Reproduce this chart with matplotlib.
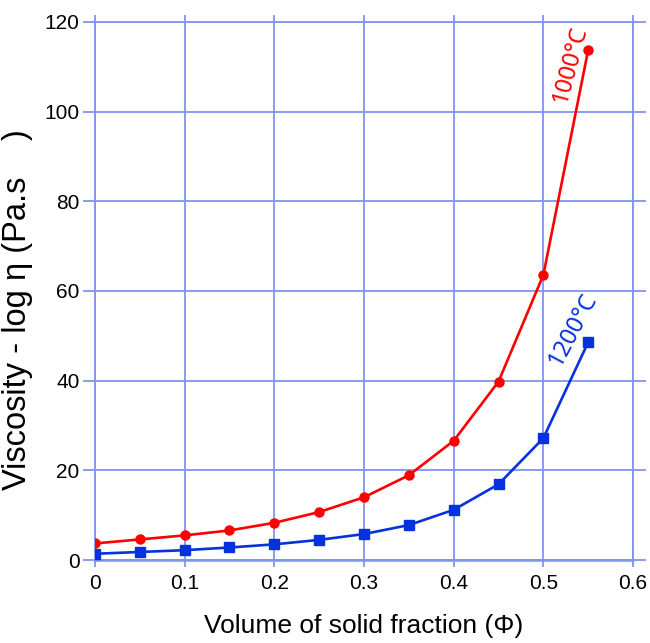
import matplotlib
matplotlib.use('Agg')
import matplotlib.pyplot as plt

phi = [0, 0.05, 0.1, 0.15, 0.2, 0.25, 0.3, 0.35, 0.4, 0.45, 0.5, 0.55]
visc_1000 = [3.7, 4.6, 5.5, 6.6, 8.3, 10.7, 14.0, 18.9, 26.6, 39.8, 63.6, 113.8]
visc_1200 = [1.4, 1.8, 2.2, 2.8, 3.5, 4.5, 5.8, 7.8, 11.2, 16.9, 27.2, 48.6]

xticks = [0, 0.1, 0.2, 0.3, 0.4, 0.5, 0.6]
xticklabels = ['0', '0.1', '0.2', '0.3', '0.4', '0.5', '0.6']
yticks = [0, 20, 40, 60, 80, 100, 120]

grid_col = '#8094f0'
red = '#ff0000'
blue = '#0532dc'

plt.rcParams['font.family'] = ['Liberation Sans', 'DejaVu Sans']

fig = plt.figure(figsize=(6.5, 6.43), dpi=100)
ax = fig.add_axes([0.146, 0.129, 0.828, 0.837])

ax.plot(phi, visc_1000, color=red, lw=1.9, marker='o', ms=6.5, zorder=3)
ax.plot(phi, visc_1200, color=blue, lw=1.9, marker='s', ms=6.5, zorder=3)

ax.set_xlim(0, 0.6)
ax.set_ylim(0, 120)
ax.set_xticks(xticks)
ax.set_xticklabels(xticklabels)
ax.set_yticks(yticks)
ax.grid(True, color=grid_col, lw=1.3)
for s in ax.spines.values():
    s.set_color(grid_col)
    s.set_linewidth(1.3)
ax.spines['bottom'].set_linewidth(1.8)
ax.tick_params(direction='out', width=1.3, color=grid_col,
               top=True, right=True, labelsize=15)
ax.tick_params(axis='y', length=9, pad=2)
ax.tick_params(axis='x', length=5, pad=5)

ax.set_xlabel('Volume of solid fraction (\u03a6)', fontsize=19, labelpad=15)
ax.set_ylabel('Viscosity - log \u03b7 (Pa.s    )', fontsize=23.5)
ax.yaxis.set_label_coords(-0.115, 0.465)

ax.text(0.5295, 110.6, '1000\u00b0C', color=red, fontsize=17, rotation=75,
        ha='center', va='center', family=['Noto Sans', 'DejaVu Sans'], style='normal')
ax.text(0.533, 51.4, '1200\u00b0C', color=blue, fontsize=17, rotation=62,
        ha='center', va='center', family=['Noto Sans', 'DejaVu Sans'], style='normal')

fig.savefig('out.png', dpi=100)
